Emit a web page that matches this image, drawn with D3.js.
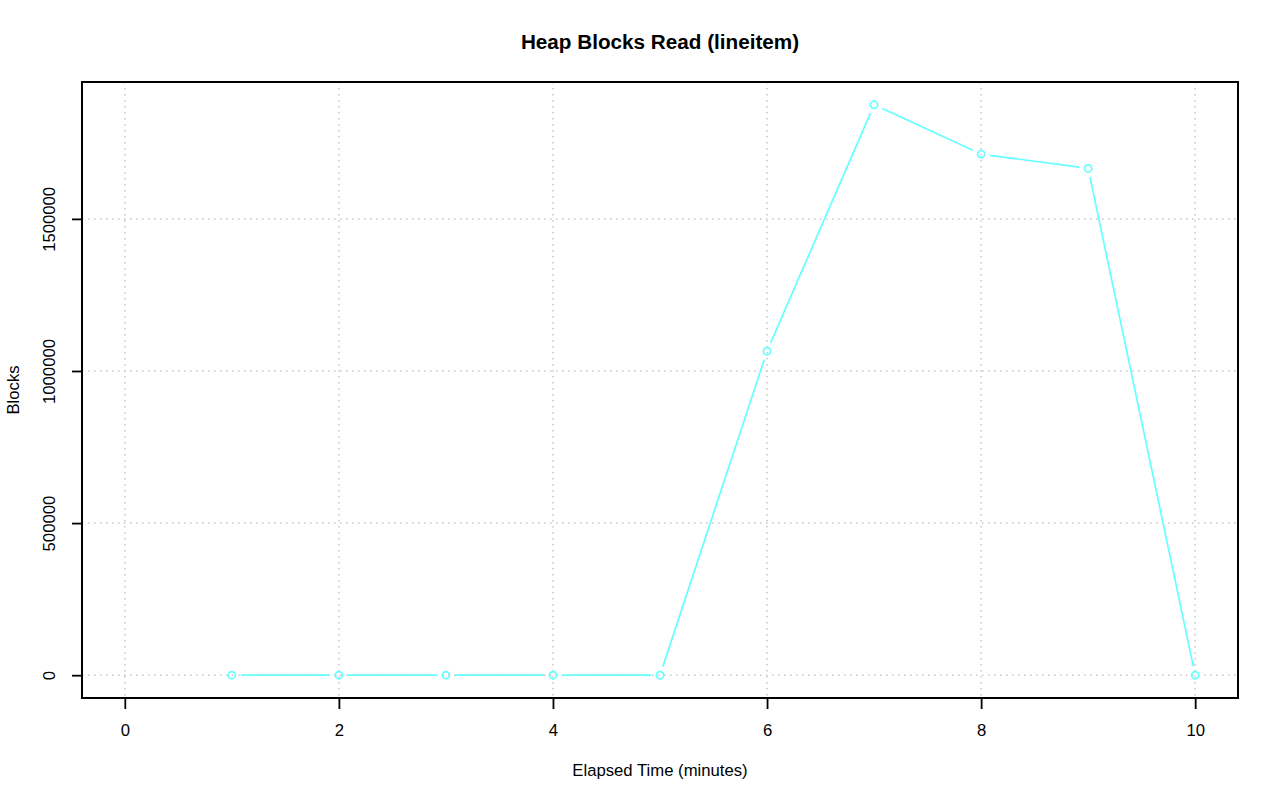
<!DOCTYPE html>
<html>
<head>
<meta charset="utf-8">
<script src="https://cdn.jsdelivr.net/npm/d3@7"></script>
<style>
  body { margin: 0; background: #fff; }
  svg { display: block; font-family: "Liberation Sans", Arial, Helvetica, sans-serif; }
</style>
</head>
<body>
<svg id="chart" width="1280" height="801"></svg>
<script>
const minutes = [1, 2, 3, 4, 5, 6, 7, 8, 9, 10];
const blocks = [0, 0, 0, 0, 0, 1065000, 1875000, 1713000, 1666000, 0];
const xTicks = [0, 2, 4, 6, 8, 10];
const yTicks = [0, 500000, 1000000, 1500000];
const title = "Heap Blocks Read (lineitem)";
const xLabel = "Elapsed Time (minutes)";
const yLabel = "Blocks";

const svg = d3.select("#chart");
const L = 82, R = 1238, T = 82, B = 698;
const x = d3.scaleLinear().domain([-0.4, 10.4]).range([L, R]);
const y = d3.scaleLinear().domain([-75000, 1950000]).range([B, T]);
const color = "#66ffff";
const gridColor = "#c8c8c8";
const fs = 16.7;

// grid
svg.append("g").selectAll("line").data(xTicks).join("line")
  .attr("x1", d => x(d)).attr("x2", d => x(d))
  .attr("y1", T).attr("y2", B)
  .attr("stroke", gridColor).attr("stroke-width", 1.5).attr("stroke-dasharray", "1.5,4.5");
svg.append("g").selectAll("line").data(yTicks).join("line")
  .attr("x1", L).attr("x2", R)
  .attr("y1", d => y(d)).attr("y2", d => y(d))
  .attr("stroke", gridColor).attr("stroke-width", 1.5).attr("stroke-dasharray", "1.5,4.5");

// axes
const xAxis = d3.axisBottom(x).tickValues(xTicks).tickSize(11).tickPadding(15).tickFormat(d3.format("d"));
const gx = svg.append("g").attr("transform", `translate(0,${B})`).call(xAxis);
gx.select(".domain").remove();
gx.selectAll("line").attr("stroke", "#000").attr("stroke-width", 1.8);
gx.selectAll("text").attr("font-size", fs).attr("fill", "#000")
  .attr("font-family", "'Liberation Sans', Arial, sans-serif");

const yAxis = d3.axisLeft(y).tickValues(yTicks).tickSize(10).tickFormat(d3.format("d"));
const gy = svg.append("g").attr("transform", `translate(${L},0)`).call(yAxis);
gy.select(".domain").remove();
gy.selectAll("line").attr("stroke", "#000").attr("stroke-width", 1.8);
gy.selectAll("text")
  .attr("font-size", fs).attr("fill", "#000")
  .attr("font-family", "'Liberation Sans', Arial, sans-serif")
  .attr("x", null).attr("dy", null)
  .attr("text-anchor", "middle")
  .attr("transform", "translate(-27,0) rotate(-90)");

// box
svg.append("rect").attr("x", L).attr("y", T).attr("width", R - L).attr("height", B - T)
  .attr("fill", "none").attr("stroke", "#000").attr("stroke-width", 2);

// line with gaps (type "b")
const pts = minutes.map((m, i) => [x(m), y(blocks[i])]);
const gap = 9;
const segs = [];
for (let i = 0; i < pts.length - 1; i++) {
  const [x1, y1] = pts[i], [x2, y2] = pts[i + 1];
  const dx = x2 - x1, dy = y2 - y1, len = Math.hypot(dx, dy);
  if (len > 2 * gap) {
    const ux = dx / len, uy = dy / len;
    segs.push([x1 + ux * gap, y1 + uy * gap, x2 - ux * gap, y2 - uy * gap]);
  }
}
svg.append("g").selectAll("line").data(segs).join("line")
  .attr("x1", d => d[0]).attr("y1", d => d[1]).attr("x2", d => d[2]).attr("y2", d => d[3])
  .attr("stroke", color).attr("stroke-width", 1.7);
svg.append("g").selectAll("circle").data(minutes).join("circle")
  .attr("cx", d => x(d)).attr("cy", (d, i) => y(blocks[i]))
  .attr("r", 3.6).attr("fill", "none").attr("stroke", color).attr("stroke-width", 1.7);

// titles
svg.append("text").attr("x", (L + R) / 2).attr("y", 49).attr("text-anchor", "middle")
  .attr("font-size", 20.7).attr("font-weight", "bold").text(title);
svg.append("text").attr("x", (L + R) / 2).attr("y", 776).attr("text-anchor", "middle")
  .attr("font-size", fs).text(xLabel);
svg.append("text").attr("transform", `translate(18.5,${(T + B) / 2}) rotate(-90)`)
  .attr("text-anchor", "middle").attr("font-size", fs).text(yLabel);
</script>
</body>
</html>
